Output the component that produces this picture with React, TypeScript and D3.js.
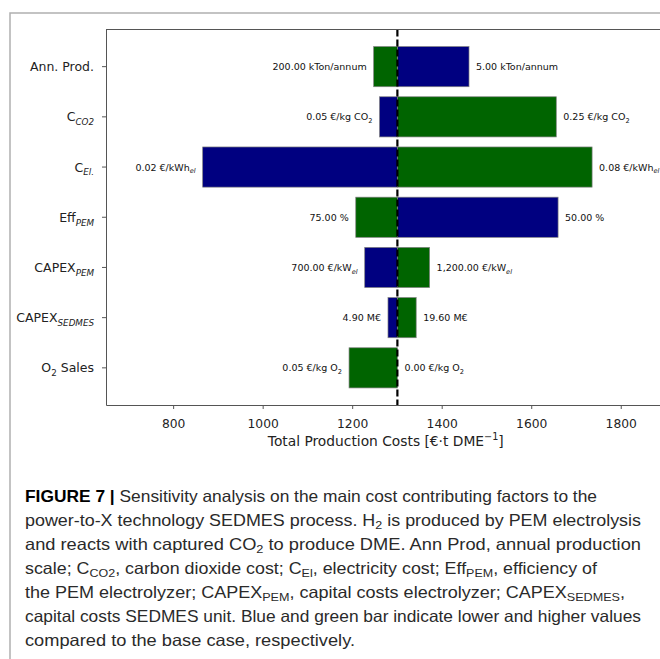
import { useEffect, useRef } from "react";
import * as d3 from "d3";

type Seg = [string, string?];

// chart data
const categories = ["annProd", "cCO2", "cEl", "effPEM", "capexPEM", "capexSEDMES", "o2Sales"];
const tickLabels: Seg[][] = [
  [["Ann. Prod."]],
  [["C"], ["CO2", "si"]],
  [["C"], ["El.", "si"]],
  [["Eff"], ["PEM", "si"]],
  [["CAPEX"], ["PEM", "si"]],
  [["CAPEX"], ["SEDMES", "si"]],
  [["O"], ["2", "s"], [" Sales"]],
];
// cost with the lower parameter value (blue) and the higher one (green)
const lowCost = [1461, 1261, 866, 1660, 1228, 1280, 1301];
const highCost = [1248, 1656, 1736, 1208, 1373, 1343, 1193];
const lowLabels: Seg[][] = [
  [["5.00 kTon/annum"]],
  [["0.05 €/kg CO"], ["2", "s"]],
  [["0.02 €/kWh"], ["el", "si"]],
  [["50.00 %"]],
  [["700.00 €/kW"], ["el", "si"]],
  [["4.90 M€"]],
  [["0.00 €/kg O"], ["2", "s"]],
];
const highLabels: Seg[][] = [
  [["200.00 kTon/annum"]],
  [["0.25 €/kg CO"], ["2", "s"]],
  [["0.08 €/kWh"], ["el", "si"]],
  [["75.00 %"]],
  [["1,200.00 €/kW"], ["el", "si"]],
  [["19.60 M€"]],
  [["0.05 €/kg O"], ["2", "s"]],
];
const baseCost = 1301;
const xTicks = [800, 1000, 1200, 1400, 1600, 1800];
const xTitle: Seg[] = [["Total Production Costs [€·t DME"], ["−1", "p"], ["]"]];

const captionLines: Seg[][] = [
  [["FIGURE 7 |", "b"], [" Sensitivity analysis on the main cost contributing factors to the"]],
  [["power-to-X technology SEDMES process. H"], ["2", "s"], [" is produced by PEM electrolysis"]],
  [["and reacts with captured CO"], ["2", "s"], [" to produce DME. Ann Prod, annual production"]],
  [["scale; C"], ["CO2", "s"], [", carbon dioxide cost; C"], ["El", "s"], [", electricity cost; Eff"], ["PEM", "s"], [", efficiency of"]],
  [["the PEM electrolyzer; CAPEX"], ["PEM", "s"], [", capital costs electrolyzer; CAPEX"], ["SEDMES", "s"], [","]],
  [["capital costs SEDMES unit. Blue and green bar indicate lower and higher values"]],
  [["compared to the base case, respectively."]],
];
const captionWidths = [572, 616, 616, 572, 600, 616, 330];

const W = 660;
const H = 659;
const plotLeft = 106;
const plotTop = 29.5;
const plotBottom = 405;
const font = "DejaVu Sans, sans-serif";

function rich(sel: any, segs: Seg[], size: number, subShift = 0.3) {
  let shift = 0;
  segs.forEach(([t, k = ""]) => {
    const small = k === "s" || k === "si" || k === "p";
    const target = k === "p" ? -0.4 * size : small ? subShift * size : 0;
    const ts = sel.append("tspan").attr("dy", target - shift).text(t);
    if (small) ts.attr("font-size", size * 0.7);
    if (k === "si") ts.attr("font-style", "italic");
    if (k === "b") ts.attr("font-weight", "bold").attr("fill", "#000");
    shift = target;
  });
}

export default function App() {
  const svgRef = useRef<SVGSVGElement>(null);

  useEffect(() => {
    const svg = d3.select(svgRef.current);
    svg.selectAll("*").remove();

    const x = d3.scaleLinear().domain([650, 1900]).range([plotLeft, 665.5]);
    const y = d3
      .scaleBand()
      .domain(categories)
      .range([plotTop, plotBottom])
      .paddingInner(0.2)
      .paddingOuter(0.34);

    svg.append("rect").attr("width", W).attr("height", H).attr("fill", "#fff");

    // outer figure frame
    svg
      .append("path")
      .attr("d", `M10,${H} V13 H${W}`)
      .attr("fill", "none")
      .attr("stroke", "#b0b0b0")
      .attr("stroke-width", 1.5);

    // bars
    const rows = categories.map((c, i) => ({ c, i, lo: lowCost[i], hi: highCost[i] }));
    const g = svg.append("g");
    const bar = (v: number, col: string, d: any) =>
      g
        .append("rect")
        .attr("x", Math.min(x(v), x(baseCost)))
        .attr("y", y(d.c))
        .attr("width", Math.abs(x(v) - x(baseCost)))
        .attr("height", y.bandwidth())
        .attr("fill", col)
        .attr("stroke", "#808080")
        .attr("stroke-width", 0.7);
    rows.forEach((d) => {
      bar(d.lo, "#000080", d);
      bar(d.hi, "#006400", d);
    });

    // value labels
    rows.forEach((d) => {
      const cy = y(d.c) + y.bandwidth() / 2 + 3.5;
      const loLeft = d.lo <= d.hi;
      const leftSegs = loLeft ? lowLabels[d.i] : highLabels[d.i];
      const rightSegs = loLeft ? highLabels[d.i] : lowLabels[d.i];
      const lt = svg
        .append("text")
        .attr("x", x(Math.min(d.lo, d.hi, baseCost)) - 7)
        .attr("y", cy)
        .attr("text-anchor", "end")
        .attr("font-family", font)
        .attr("font-size", 9.5)
        .attr("fill", "#111");
      rich(lt, leftSegs, 9.5);
      const rt = svg
        .append("text")
        .attr("x", x(Math.max(d.lo, d.hi, baseCost)) + 7)
        .attr("y", cy)
        .attr("font-family", font)
        .attr("font-size", 9.5)
        .attr("fill", "#111");
      rich(rt, rightSegs, 9.5);
    });

    // base case line
    svg
      .append("line")
      .attr("x1", x(baseCost))
      .attr("x2", x(baseCost))
      .attr("y1", plotTop)
      .attr("y2", plotBottom)
      .attr("stroke", "#000")
      .attr("stroke-width", 2.2)
      .attr("stroke-dasharray", "7,3");

    // axes
    const xAxis = svg
      .append("g")
      .attr("transform", `translate(0,${plotBottom})`)
      .call(
        d3.axisBottom(x).tickValues(xTicks).tickSize(4).tickSizeOuter(0).tickFormat(d3.format("d"))
      );
    xAxis
      .selectAll("text")
      .attr("font-family", font)
      .attr("font-size", 12.3)
      .attr("fill", "#222")
      .attr("y", 22.5)
      .attr("dy", 0);
    const yAxis = svg
      .append("g")
      .attr("transform", `translate(${plotLeft},0)`)
      .call(d3.axisLeft(y).tickSize(4).tickSizeOuter(0).tickFormat(() => ""));
    svg.selectAll(".domain, .tick line").attr("stroke", "#555");
    yAxis.selectAll("text").remove();

    svg
      .append("line")
      .attr("x1", plotLeft)
      .attr("x2", W)
      .attr("y1", plotTop)
      .attr("y2", plotTop)
      .attr("stroke", "#555");

    categories.forEach((c, i) => {
      const t = svg
        .append("text")
        .attr("x", 94)
        .attr("y", y(c) + y.bandwidth() / 2 + 4.5)
        .attr("text-anchor", "end")
        .attr("font-family", font)
        .attr("font-size", 12.5)
        .attr("fill", "#222");
      rich(t, tickLabels[i], 12.5);
    });

    const xt = svg
      .append("text")
      .attr("x", (plotLeft + 665.5) / 2)
      .attr("y", 446)
      .attr("text-anchor", "middle")
      .attr("font-family", font)
      .attr("font-size", 13.8)
      .attr("fill", "#222");
    rich(xt, xTitle, 13.8);

    // caption
    captionLines.forEach((segs, i) => {
      const t = svg
        .append("text")
        .attr("x", 25)
        .attr("y", 502 + i * 24)
        .attr("font-family", "Liberation Sans Narrow, Liberation Sans, Arial, sans-serif")
        .attr("font-size", 16.5)
        .attr("fill", "#2a2a2a")
        .attr("textLength", captionWidths[i])
        .attr("lengthAdjust", "spacingAndGlyphs");
      rich(t, segs, 16.5, 0.18);
    });
  }, []);

  return (
    <svg
      ref={svgRef}
      width={W}
      height={H}
      style={{ position: "absolute", left: 0, top: 0, display: "block" }}
    />
  );
}
